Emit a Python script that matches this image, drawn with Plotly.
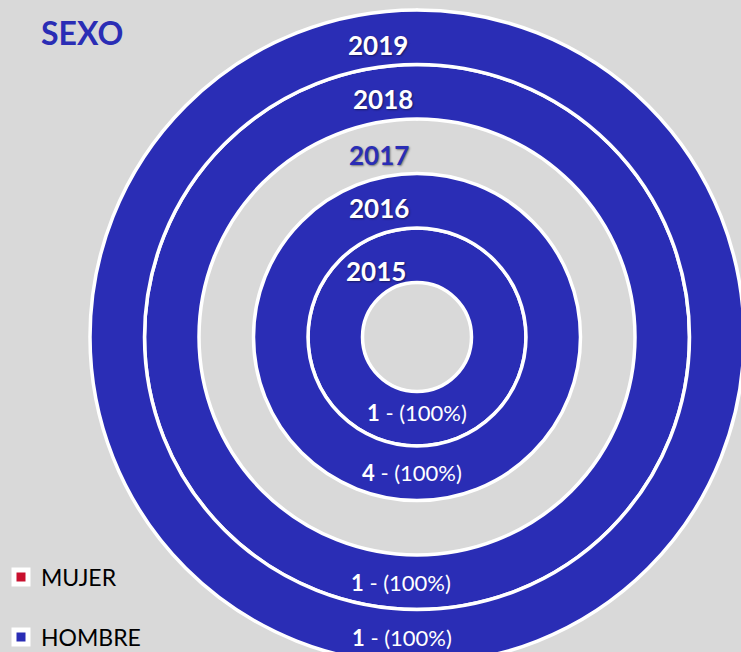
import plotly.graph_objects as go

# ── Data ──────────────────────────────────────────────────────────────
years = ["2015", "2016", "2017", "2018", "2019"]
categories = ["MUJER", "HOMBRE"]
mujer = [0, 0, 0, 0, 0]
hombre = [1, 4, 0, 1, 1]

# ── Style / geometry ──────────────────────────────────────────────────
W, H = 760, 680          # a bit larger than the window, rings run off the edge
CX, CY = 417, 337        # ring centre in pixels (from top-left)
RING = 54.5              # ring thickness in pixels
BG = "#d9d9d9"
BLUE = "#2a2db5"
RED = "#c8102e"
FONT = "Lato"

year_pos = [(376, 271), (379, 208), (379, 155), (383, 99), (378, 45)]
value_pos = [(417, 413), (412, 472), None, (401, 582), (402, 637)]


def px(x, y):
    return x / W, 1 - y / H


fig = go.Figure()

for i, year in enumerate(years):
    r_out = RING * (i + 2)
    x0, y0 = px(CX - r_out, CY + r_out)
    x1, y1 = px(CX + r_out, CY - r_out)
    fig.add_trace(go.Pie(
        labels=categories,
        values=[mujer[i], hombre[i]],
        hole=(i + 1) / (i + 2),
        domain=dict(x=[x0, x1], y=[y0, y1]),
        marker=dict(colors=[RED, BLUE], line=dict(color="white", width=3.5)),
        sort=False,
        direction="clockwise",
        textinfo="none",
        hoverinfo="label+value+percent",
        showlegend=False,
        name=year,
    ))

shadow = "1px 1px 2px rgba(0,0,0,0.45)"
annotations = []
for i, year in enumerate(years):
    total = mujer[i] + hombre[i]
    x, y = px(*year_pos[i])
    annotations.append(dict(
        x=x, y=y, xref="paper", yref="paper", showarrow=False,
        xanchor="center", yanchor="middle",
        text=f"<b>{year}</b>",
        font=dict(family=FONT, size=26, color="white" if total else BLUE, shadow=shadow),
    ))
    if total:
        x, y = px(*value_pos[i])
        pct = round(100 * hombre[i] / total)
        annotations.append(dict(
            x=x, y=y, xref="paper", yref="paper", showarrow=False,
            xanchor="center", yanchor="middle",
            text=f"<b>{hombre[i]}</b> - ({pct}%)",
            font=dict(family=FONT, size=22, color="white"),
        ))

# legend via invisible scatter traces, one legend each so they sit far apart
for name, color, leg in [("MUJER", RED, "legend"), ("HOMBRE", BLUE, "legend2")]:
    fig.add_trace(go.Scatter(
        x=[None], y=[None], mode="markers", name=name, legend=leg,
        marker=dict(symbol="square", size=14, color=color, line=dict(color="white", width=5)),
    ))

lx, ly1 = px(1, 577)
_, ly2 = px(1, 637)
tx, ty = px(41, 34)

fig.update_layout(
    width=W, height=H,
    margin=dict(l=0, r=0, t=0, b=0),
    paper_bgcolor=BG, plot_bgcolor=BG,
    font=dict(family=FONT, color="black"),
    xaxis=dict(visible=False), yaxis=dict(visible=False),
    title=dict(text="<b>SEXO</b>", x=tx, y=ty, xanchor="left", yanchor="middle",
               font=dict(family=FONT, size=32, color=BLUE)),
    annotations=annotations,
    legend=dict(x=lx, y=ly1, xanchor="left", yanchor="middle", bgcolor="rgba(0,0,0,0)",
                font=dict(size=23, color="black")),
    legend2=dict(x=lx, y=ly2, xanchor="left", yanchor="middle", bgcolor="rgba(0,0,0,0)",
                 font=dict(size=23, color="black")),
)

fig.write_html("out.html", config={"displayModeBar": False},
               post_script="document.body.style.margin = '0';")
